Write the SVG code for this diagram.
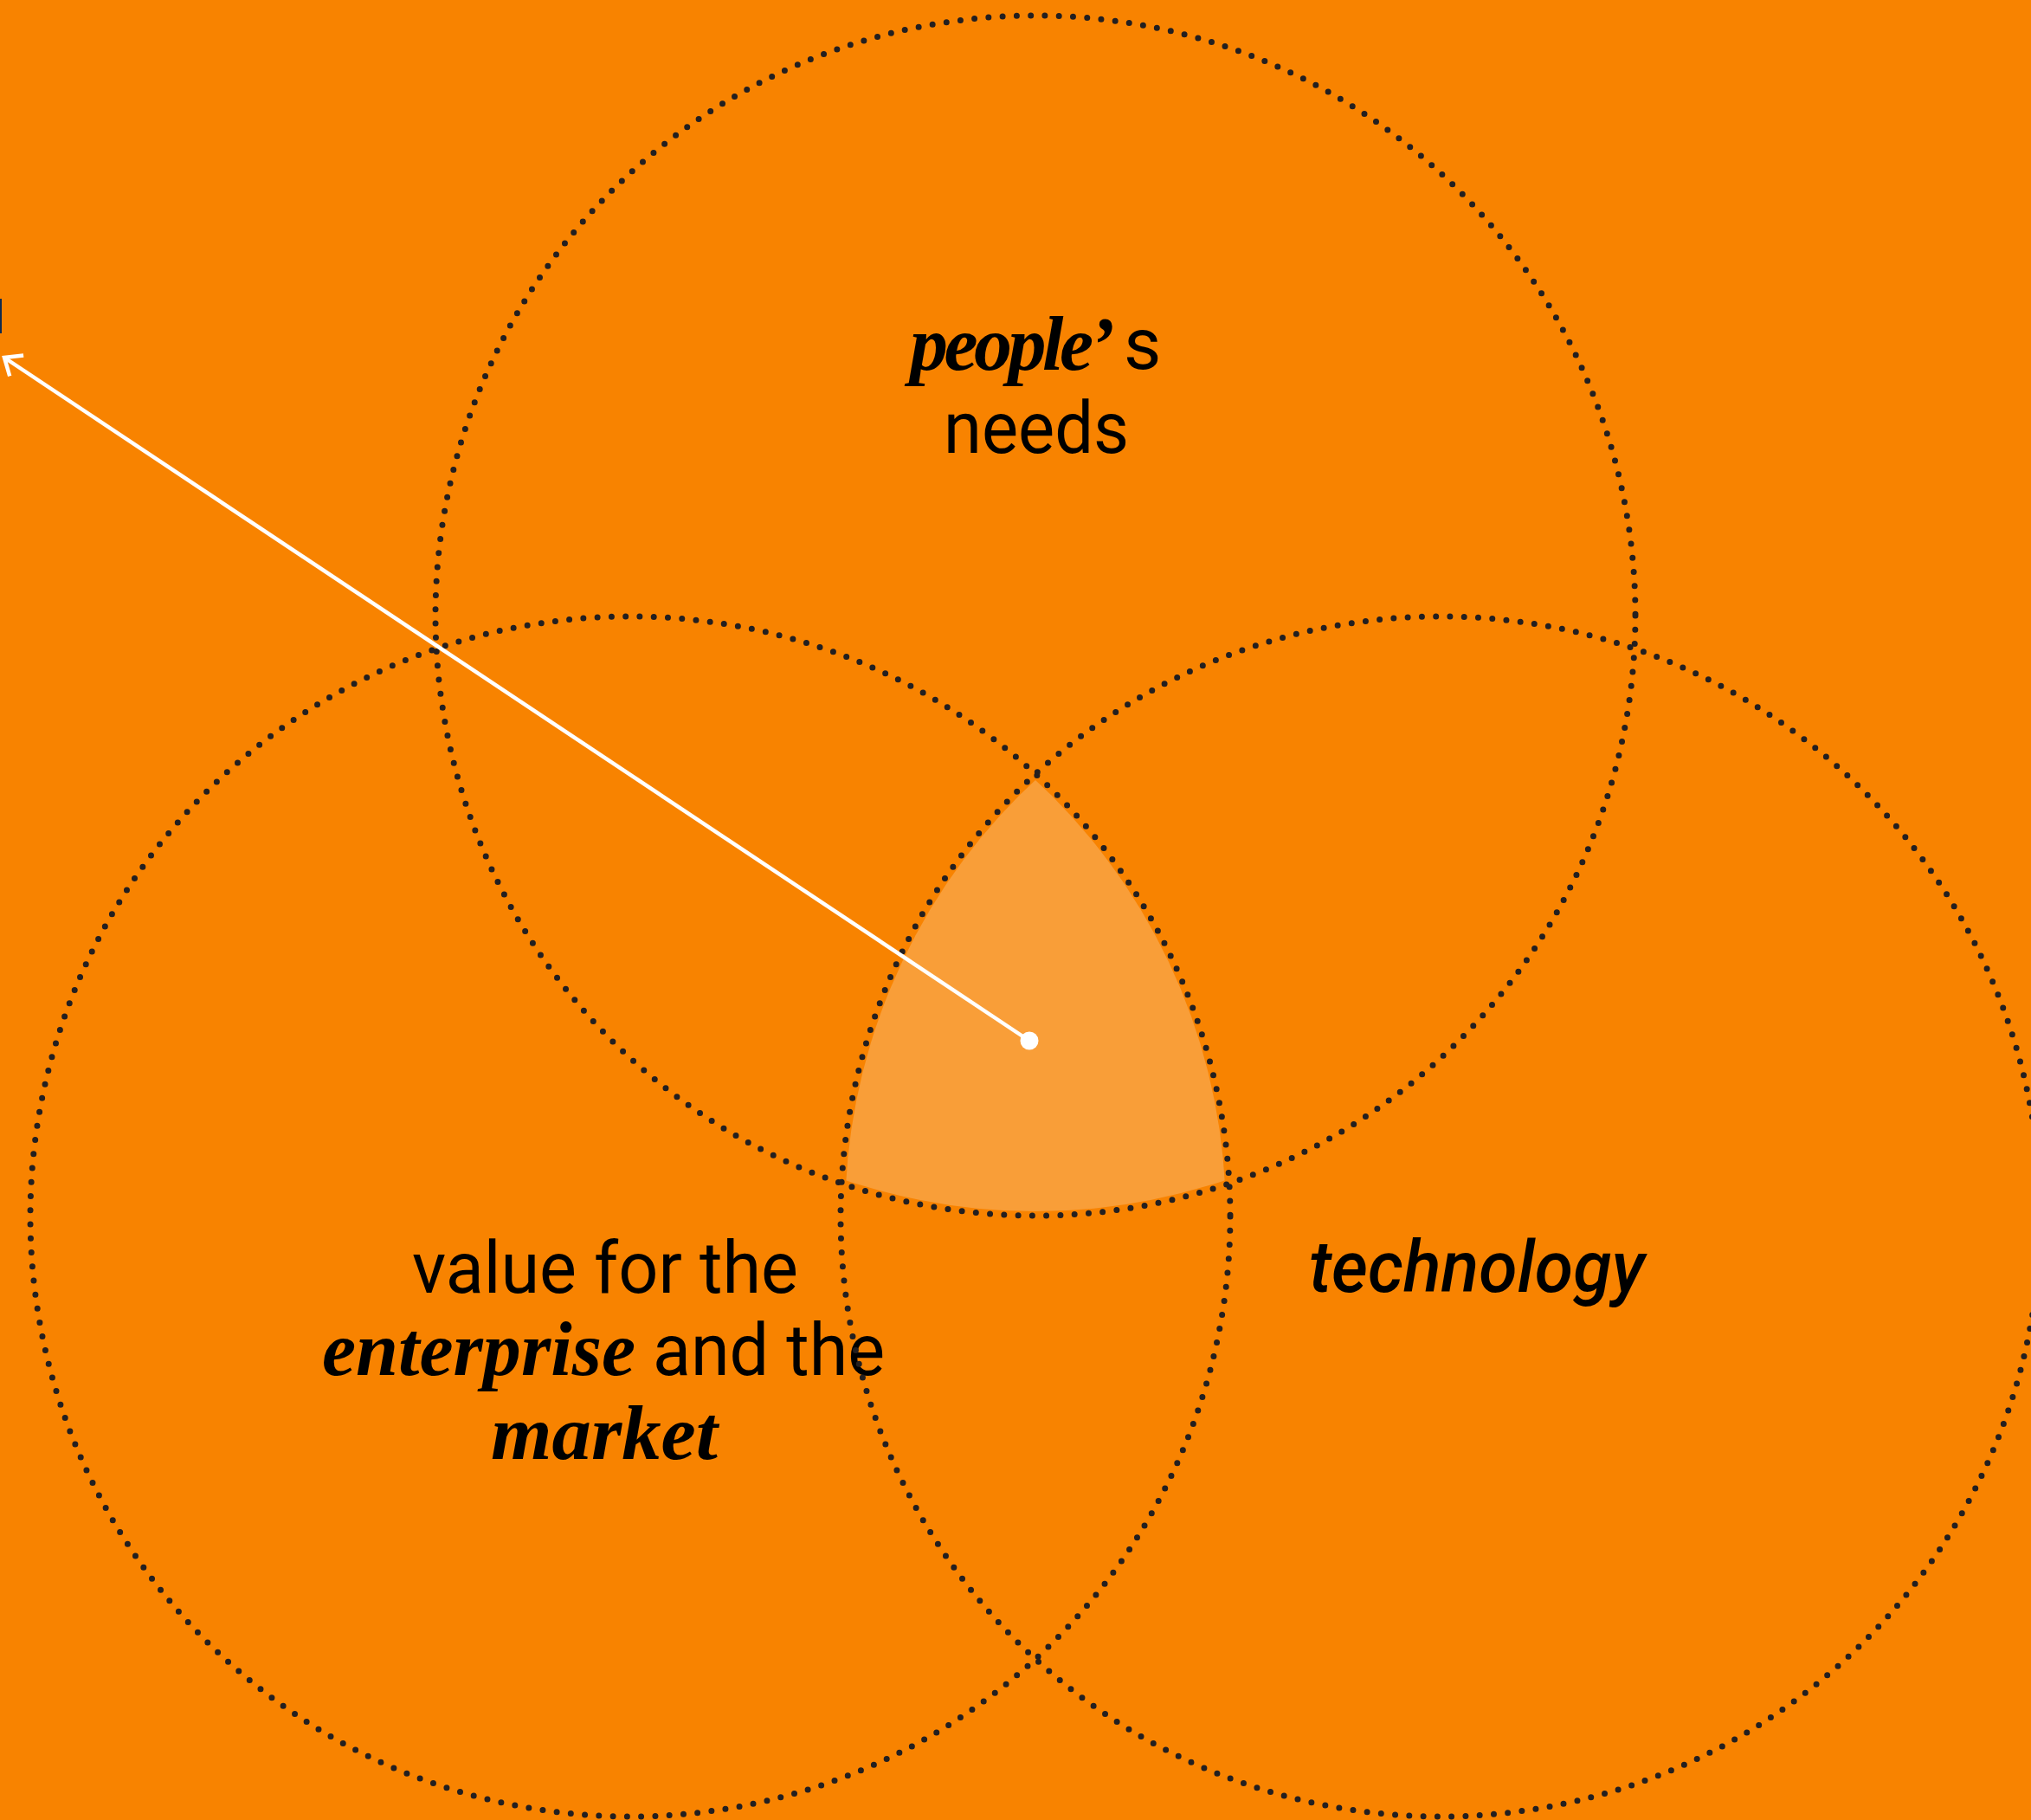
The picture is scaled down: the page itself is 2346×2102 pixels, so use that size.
<svg xmlns="http://www.w3.org/2000/svg" width="2346" height="2102" viewBox="0 0 2346 2102">
  <style>
    .ring { fill: none; stroke: #231f20; stroke-width: 7; stroke-linecap: round; stroke-dasharray: 0 16.3; }
    .sans { font-family: Roboto, "Liberation Sans", sans-serif; font-size: 84px; font-style: normal; font-weight: normal; fill: #000; }
    .serif { font-family: "Liberation Serif", "DejaVu Serif", serif; font-size: 88px; font-style: italic; font-weight: bold; fill: #000; }
    .sansi { font-family: Roboto, "Liberation Sans", sans-serif; font-size: 84px; font-style: italic; font-weight: 500; fill: #000; }
    .conn { stroke: #fff; stroke-width: 4.5; fill: none; }
  </style>
  <defs>
    <clipPath id="clipL"><circle cx="728" cy="1405" r="688"/></clipPath>
    <clipPath id="clipR"><circle cx="1664" cy="1405" r="688"/></clipPath>
    <marker id="arrow" markerUnits="userSpaceOnUse" markerWidth="40" markerHeight="40" viewBox="-20 -20 40 40" refX="0" refY="0" orient="auto" overflow="visible">
      <path d="M -15.3 -12.9 L 0 0 L -15.3 12.9" fill="none" stroke="#fff" stroke-width="4.5" stroke-linecap="square" stroke-linejoin="miter"/>
    </marker>
  </defs>

  <rect x="0" y="0" width="2346" height="2102" fill="#f88300"/>
  <rect x="0" y="345" width="2" height="40" fill="#0f2a4f"/>

  <g id="overlap" clip-path="url(#clipR)">
    <circle cx="1196" cy="711" r="688" fill="#f99e38" clip-path="url(#clipL)"/>
  </g>

  <g id="people-needs">
    <circle class="ring" cx="1196" cy="711" r="693"/>
    <text class="serif" x="1051" y="427" letter-spacing="-4.5">people’</text>
    <text class="sans" x="1298" y="426">s</text>
    <text class="sans" x="1090" y="523" textLength="214" lengthAdjust="spacingAndGlyphs">needs</text>
  </g>

  <g id="enterprise-market">
    <circle class="ring" cx="728" cy="1405" r="693"/>
    <text class="sans" x="476" y="1493" textLength="446" lengthAdjust="spacingAndGlyphs">value for the</text>
    <text class="serif" x="372" y="1588" textLength="362" lengthAdjust="spacingAndGlyphs">enterprise</text>
    <text class="sans" x="754" y="1588" textLength="268" lengthAdjust="spacingAndGlyphs">and the</text>
    <text class="serif" x="567" y="1685" textLength="262" lengthAdjust="spacingAndGlyphs">market</text>
  </g>

  <g id="technology">
    <circle class="ring" cx="1664" cy="1405" r="693"/>
    <text class="sansi" x="1512" y="1492" textLength="388" lengthAdjust="spacingAndGlyphs">technology</text>
  </g>

  <g id="connectors">
    <line class="conn" x1="1189" y1="1202" x2="5" y2="413" marker-end="url(#arrow)"/>
    <circle cx="1189" cy="1202" r="10.5" fill="#fff"/>
  </g>
</svg>
